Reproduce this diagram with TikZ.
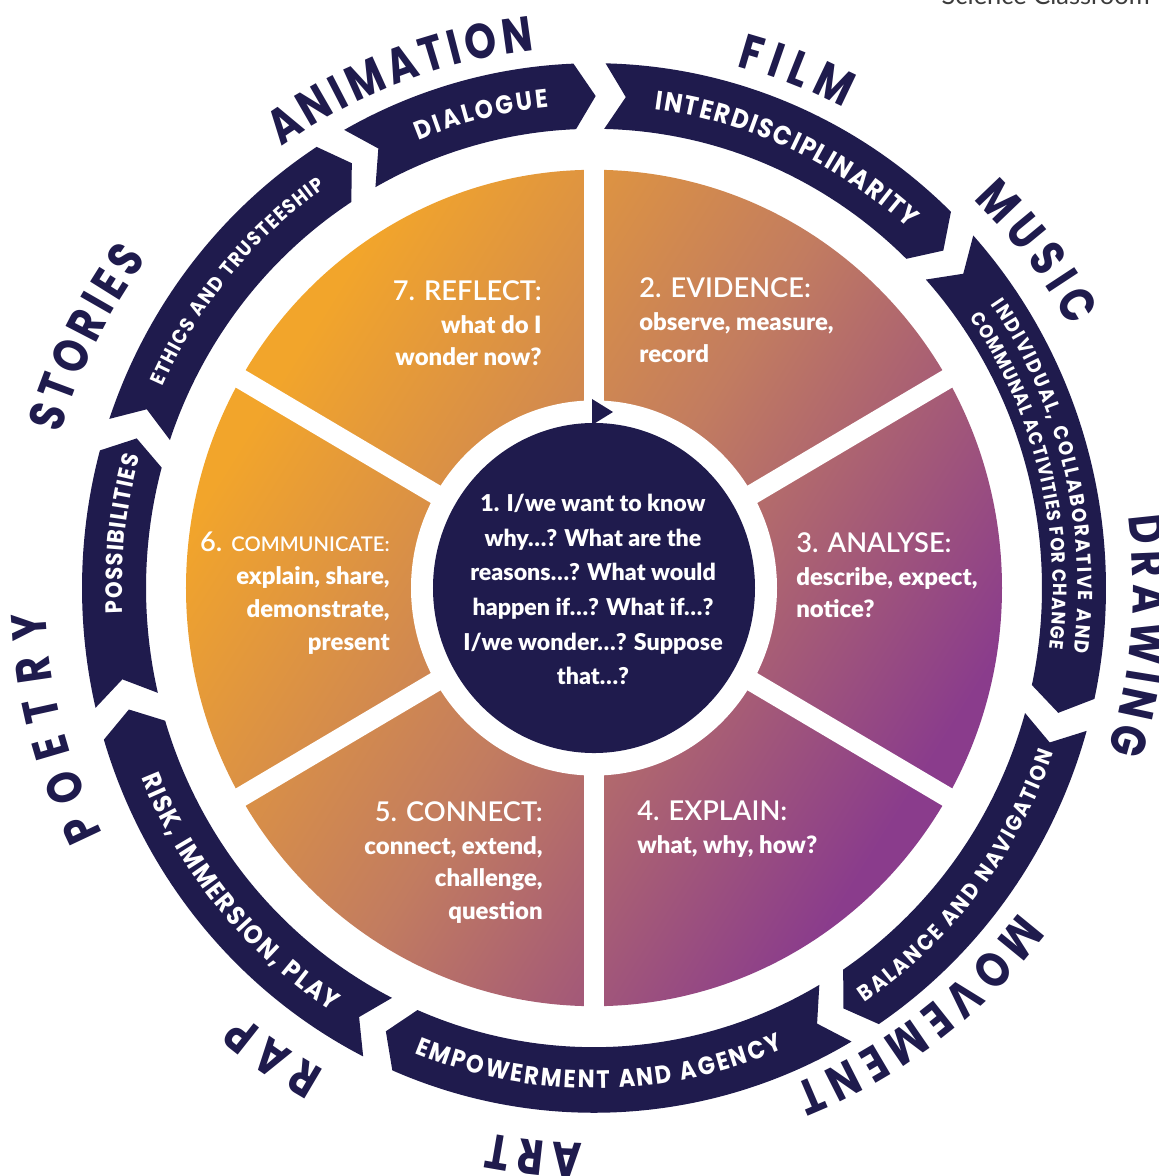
\documentclass[tikz,border=0pt]{standalone}
\usepackage{fontspec}
\setmainfont{Lato}
\newfontfamily\ringfam{Poppins}[FakeStretch=0.82]
\newfontfamily\bandfam{Poppins}[FakeStretch=0.9]
\IfFontExistsTF{Lato Semibold}{\newfontfamily\headfam{Lato Semibold}}{\newfontfamily\headfam{Lato}}
\IfFontExistsTF{Lato Black}{\newfontfamily\bodyfam{Lato Black}\newcommand\bodyweight{\mdseries}}{\newfontfamily\bodyfam{Lato}\newcommand\bodyweight{\bfseries}}
\usetikzlibrary{decorations.text}

\definecolor{navy}{HTML}{1F1B4D}
\definecolor{wheelorange}{HTML}{F2A52B}
\definecolor{wheelmid}{HTML}{C27C60}
\definecolor{wheelpurple}{HTML}{8A3C8C}
\definecolor{smallgrey}{HTML}{3C3C3C}
\pgfdeclarehorizontalshading{wheelgrad}{100bp}{color(0bp)=(wheelorange); color(27bp)=(wheelorange); color(50bp)=(wheelmid); color(73bp)=(wheelpurple); color(100bp)=(wheelpurple)}

\newcommand\bandfont[1]{\bandfam\bfseries\fontsize{#1}{#1}\selectfont}
\newcommand\stephead{\headfam\mdseries\fontsize{15.5}{18.7}\selectfont}
\newcommand\ringfont{\ringfam\bfseries\fontsize{28}{28}\selectfont}
\newcommand\bandin{448}
\newcommand\bandout{512}
\newcommand\bandmid{480}

\tikzset{
  band/.style={fill=navy},
  gapline/.style={white,line width=11.3pt},
  steptext/.style={text=white,inner sep=0,font=\bodyfam\bodyweight\fontsize{13.6}{18.7}\selectfont}
}

% #1 tail gap angle, #2 head gap angle
\newcommand{\bandseg}[2]{%
  \pgfmathsetmacro{\segtail}{#1-1.8}\pgfmathsetmacro{\seghead}{#2+1.8}%
  \pgfmathsetmacro{\segtip}{#2-0.7}\pgfmathsetmacro{\segnotch}{#1-4.3}%
  \fill[band] (\segtail:\bandout) arc[start angle=\segtail,end angle=\seghead,radius=\bandout]
    -- (\segtip:\bandmid) -- (\seghead:\bandin) arc[start angle=\seghead,end angle=\segtail,radius=\bandin]
    -- (\segnotch:\bandmid) -- cycle;}
% #1 start angle, #2 end angle, #3 baseline radius, #4 size, #5 text
\newcommand{\bandtext}[5]{%
  \path[decorate,decoration={text along path,text align=fit to path,text color=white,text={|\bandfont{#4}|#5}}]
    (#1:#3) arc[start angle=#1,end angle=#2,radius=#3];}
\newcommand{\ringword}[4]{%
  \path[decorate,decoration={text along path,text align=fit to path,text color=navy,text={|\ringfont|#4}}]
    (#1:#3) arc[start angle=#1,end angle=#2,radius=#3];}

\begin{document}
\begin{tikzpicture}[x=0.02cm,y=0.02cm]
\useasboundingbox (-594,-588) rectangle (565,588);
\fill[white] (-594,-588) rectangle (565,588);
\begin{scope}[yscale=1.025]
\shade[shading=wheelgrad,shading angle=-32] (0,0) circle (408);
\foreach \a in {30,90,...,330}
  \draw[gapline] (0,0) -- (\a:425);
\fill[white] (0,0) circle (183);
\fill[navy] (0,0) circle (161);

\bandseg{121}{90.5}
\bandseg{90.5}{44}
\bandseg{44}{-14}
\bandseg{-14}{-58}
\bandseg{-58}{-115}
\bandseg{-115}{-165}
\bandseg{195}{163}
\bandseg{163}{121}

\bandtext{111.9}{95.5}{471}{14.7}{DIALOGUE}
\bandtext{82.6}{48.1}{471}{15.2}{INTERDISCIPLINARITY}
\bandtext{34.9}{-7.5}{484}{11.5}{INDIVIDUAL, COLLABORATIVE AND}
\bandtext{35.1}{-7.4}{459}{10.9}{COMMUNAL ACTIVITIES FOR CHANGE}
\bandtext{-56.2}{-19.3}{487}{12.6}{BALANCE AND NAVIGATION}
\bandtext{-111.6}{-67.2}{488}{14.3}{EMPOWERMENT AND AGENCY}
\bandtext{202.2}{237.6}{489}{14.9}{RISK, IMMERSION, PLAY}
\bandtext{183}{164.2}{472}{13.4}{POSSIBILITIES}
\bandtext{155.5}{124.5}{474}{11.5}{ETHICS AND TRUSTEESHIP}
\end{scope}
\fill[navy] (-2,189) -- (19,176) -- (-2,163) -- cycle;

\ringword{125.3}{96.3}{541}{ANIMATION}
\ringword{74.7}{62.5}{541}{FILM}
\ringword{45.7}{28.7}{543}{MUSIC}
\ringword{7.6}{-17.6}{539}{DRAWING}
\ringword{-37.3}{-68.1}{535}{MOVEMENT}
\ringword{-91.2}{-100.9}{555}{ART}
\ringword{-119.2}{-129.6}{553}{RAP}
\ringword{206.5}{182.6}{549}{POETRY}
\ringword{163.8}{143.7}{555}{STORIES}

\node[steptext,anchor=north,align=center,font=\bodyfam\bodyweight\fontsize{13.2}{19.7}\selectfont] (question) at (-1,94)
  {1. I/we want to know\\why…? What are the\\reasons…? What would\\happen if…? What if…?\\I/we wonder…? Suppose\\that…?};
\node[steptext,anchor=north west,align=left] (evidence) at (45,311) {{\stephead 2. EVIDENCE:}\\observe, measure,\\record};
\node[steptext,anchor=north west,align=left] (analyse) at (202,56) {{\stephead 3. ANALYSE:}\\describe, expect,\\notice?};
\node[steptext,anchor=north west,align=left] (explain) at (43,-213) {{\stephead 4. EXPLAIN:}\\what, why, how?};
\node[steptext,anchor=north east,align=right] (connect) at (-51,-213) {{\stephead 5. CONNECT:}\\connect, extend,\\challenge,\\question};
\node[steptext,anchor=north east,align=right] (communicate) at (-204,56) {{\stephead 6. {\fontsize{11.5}{18.7}\selectfont COMMUNICATE:}}\\explain, share,\\demonstrate,\\present};
\node[steptext,anchor=north east,align=right] (reflect) at (-52,308) {{\stephead 7. REFLECT:}\\what do I\\wonder now?};

\node[anchor=base east,text=smallgrey,inner sep=0,font=\fontsize{14.5}{14.5}\selectfont] (source) at (556,583) {Science Classroom};
\end{tikzpicture}
\end{document}
